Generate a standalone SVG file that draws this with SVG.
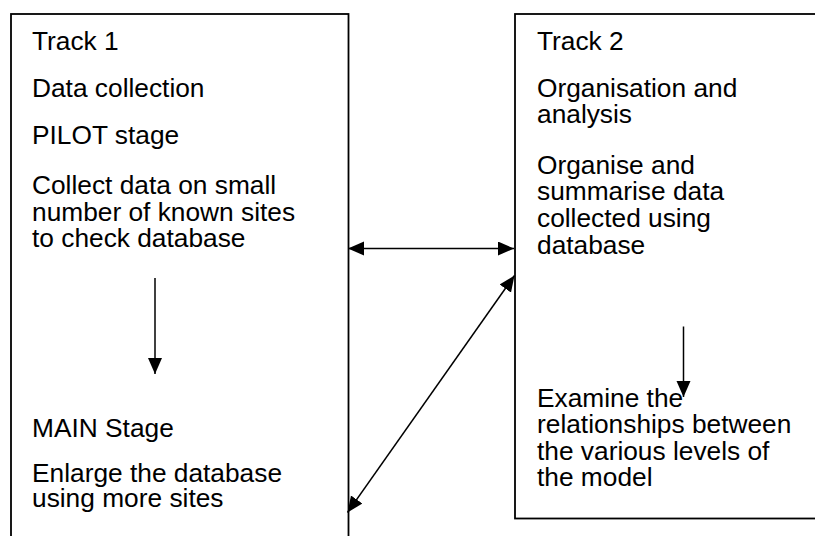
<svg xmlns="http://www.w3.org/2000/svg" width="815" height="536" viewBox="0 0 815 536">
<style>
.box{fill:#fff;stroke:#000;stroke-width:1.8}
.t{font-family:"Liberation Sans",Arial,sans-serif;font-size:26.3px;fill:#000}
.c{stroke:#000;stroke-width:1.5;fill:none}
</style>
<defs>
<marker id="ah" markerUnits="userSpaceOnUse" markerWidth="17" markerHeight="15" refX="16" refY="7" orient="auto-start-reverse" viewBox="0 0 17 15">
<path d="M0,0 L16,7 L0,14 z" fill="#000"/>
</marker>
</defs>
<rect width="815" height="536" fill="#fff"/>
<g id="track1">
<rect class="box" x="11" y="14" width="337.5" height="540"/>
<text class="t" x="32" y="49.5">Track 1</text>
<text class="t" x="32" y="96.5">Data collection</text>
<text class="t" x="32" y="143.5">PILOT stage</text>
<text class="t" x="32" y="194">Collect data on small<tspan x="32" y="220.5">number of known sites</tspan><tspan x="32" y="247">to check database</tspan></text>
<text class="t" x="32" y="437">MAIN Stage</text>
<text class="t" x="32" y="482">Enlarge the database<tspan x="32" y="507">using more sites</tspan></text>
</g>
<g id="track2">
<rect class="box" x="515" y="14" width="320" height="504.5"/>
<text class="t" x="537" y="49.5">Track 2</text>
<text class="t" x="537" y="96.5">Organisation and<tspan x="537" y="123">analysis</tspan></text>
<text class="t" x="537" y="173.5">Organise and<tspan x="537" y="200">summarise data</tspan><tspan x="537" y="226.5">collected using</tspan><tspan x="537" y="253.5">database</tspan></text>
<text class="t" x="537" y="406.5">Examine the<tspan x="537" y="433">relationships between</tspan><tspan x="537" y="459.5">the various levels of</tspan><tspan x="537" y="486">the model</tspan></text>
</g>
<g id="connectors">
<line class="c" x1="155" y1="278" x2="155" y2="374" marker-end="url(#ah)"/>
<line class="c" x1="683.5" y1="326.5" x2="683.5" y2="397" marker-end="url(#ah)"/>
<line class="c" x1="348" y1="248.5" x2="514" y2="248.5" marker-start="url(#ah)" marker-end="url(#ah)"/>
<line class="c" x1="347.5" y1="512.5" x2="514.5" y2="275.5" marker-start="url(#ah)" marker-end="url(#ah)"/>
</g>
</svg>
